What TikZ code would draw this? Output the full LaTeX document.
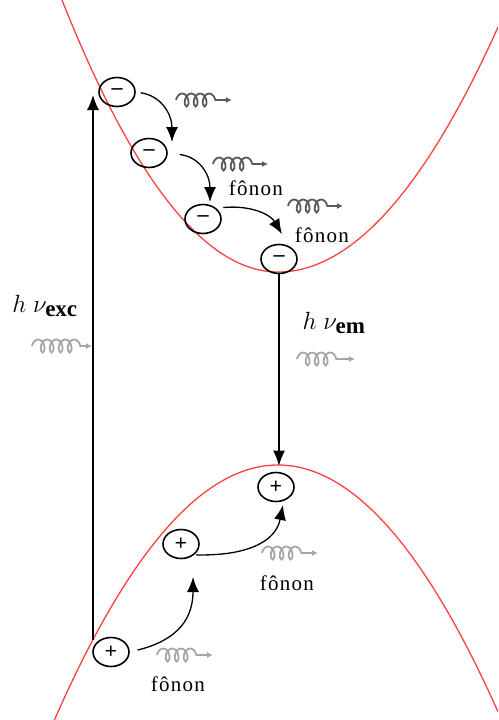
\documentclass[tikz,border=0pt]{standalone}
\usepackage{fontspec}
\setmainfont{Liberation Serif}
\newfontfamily\phfont[LetterSpace=6]{Liberation Serif}
\usetikzlibrary{arrows.meta,positioning,shapes.geometric,decorations.pathmorphing}

\begin{document}
\begin{tikzpicture}[x=1pt, y=-1pt,
    band/.style={red!75, line width=1.3pt},
    carrier/.style={draw, ellipse, line width=1.6pt, minimum width=36pt, minimum height=29pt, inner sep=0pt, font=\bfseries\fontsize{22}{22}\selectfont},
    ar/.style={-{Latex[length=15pt,width=12pt]}, line width=1.3pt},
    wave/.style={gray!70!black, line width=1.8pt, decorate,
      decoration={coil, aspect=0.6, segment length=9pt, amplitude=6.5pt, post length=11pt},
      -{Latex[length=6pt,width=6pt]}},
    lbl/.style={font=\phfont\fontsize{21}{21}\selectfont, inner sep=0pt}
  ]
    \useasboundingbox (0,0) rectangle (498,720);

    % bands
    \begin{scope}
      \clip (0,0) rectangle (498,720);
      \draw[band] plot[domain=58:278, samples=80] (\x, {272-0.583*((\x-278)/10)^2})
                  -- plot[domain=278:498, samples=80] (\x, {272-0.506*((\x-278)/10)^2});
      \draw[band] plot[domain=48:498, samples=120] (\x, {465+0.51*((\x-278)/10)^2});
    \end{scope}

    % electrons
    \node[carrier] (e1) at (117,92) {--};
    \node[carrier] (e2) at (149,153) {--};
    \node[carrier] (e3) at (203,219) {--};
    \node[carrier] (e4) at (279,259) {--};

    % holes
    \node[carrier] (h1) at (111,652) {+};
    \node[carrier] (h2) at (181,544) {+};
    \node[carrier] (h3) at (276,487) {+};

    \coordinate (t1) at (172,142);
    \coordinate (t2) at (210,202);
    \coordinate (t3) at (282,234);
    \coordinate (tb1) at (193,577);
    \coordinate (tb2) at (283,505);
    \coordinate (vb) at (93,640);
    \coordinate (vt) at (93,95);

    % relaxation
    \draw[ar, shorten <=5pt] (e1.east) .. controls (162,96) and (172,115) .. (t1);
    \draw[ar, shorten <=12pt] (e2.east) .. controls (200,157) and (210,175) .. (t2);
    \draw[ar, shorten <=7pt] (e3.north east) .. controls (250,205) and (270,214) .. (t3);
    \draw[ar, shorten <=8pt] (h1.east) .. controls (170,642) and (193,625) .. (tb1);
    \draw[ar, shorten <=2pt] (h2.south east) .. controls (240,556) and (275,545) .. (tb2);

    % optical transitions
    \draw[ar] (vb) -- (vt);
    \draw[ar, shorten >=6pt] (e4.south) -- (e4.south |- h3.north);

    % phonons / photons
    \draw[wave] (176,100) -- (232,100);
    \draw[wave] (213,164) -- (268,164);
    \draw[wave] (288,206) -- (343,206);
    \draw[wave, gray!70] (157,655) -- (213,655);
    \draw[wave, gray!70] (262,553) -- (318,553);
    \draw[wave, gray!70] (32,346) -- (92,346);
    \draw[wave, gray!70] (297,359) -- (355,359);

    \node[lbl] (f1) at (256,188) {fônon};
    \node[lbl] (f2) at (322,235) {fônon};
    \node[lbl] (f3) at (287,583) {fônon};
    \node[lbl] (f4) at (178,684) {fônon};

    \node[lbl, font=\fontsize{23}{23}\selectfont] (exc) at (45,306) {$h\;\nu_{\textbf{exc}}$};
    \node[lbl, font=\fontsize{23}{23}\selectfont] (em) at (334,323) {$h\;\nu_{\textbf{em}}$};
\end{tikzpicture}
\end{document}
